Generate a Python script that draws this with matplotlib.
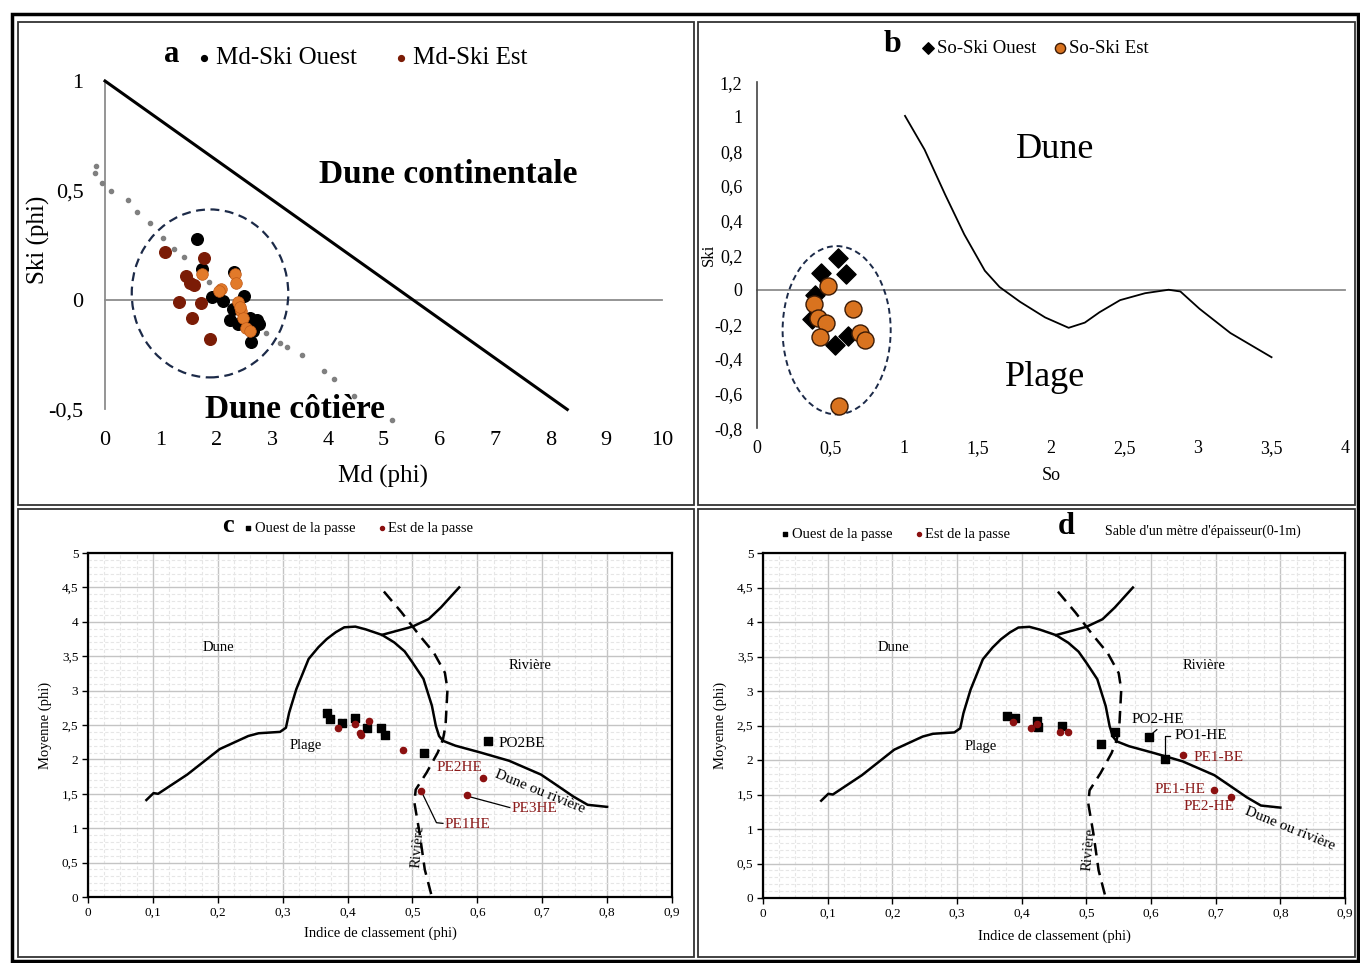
import matplotlib
matplotlib.use('Agg')
import matplotlib.pyplot as plt
from matplotlib.patches import Ellipse, Rectangle
from matplotlib.ticker import MultipleLocator

plt.rcParams['font.family'] = ['Liberation Serif', 'DejaVu Serif']

# ---------------- Panel a data ----------------
a_ouest_md = [1.66, 1.75, 2.32, 1.92, 2.12, 2.50, 2.29, 2.24, 2.39, 2.60, 2.72, 2.66, 2.63, 2.58, 2.76]
a_ouest_ski = [0.28, 0.14, 0.13, 0.015, -0.003, 0.02, -0.04, -0.09, -0.11, -0.08, -0.09, -0.14, -0.19, -0.12, -0.11]
a_est_md = [1.07, 1.77, 1.45, 1.53, 1.60, 1.32, 1.72, 1.57, 1.89]
a_est_ski = [0.22, 0.19, 0.11, 0.076, 0.07, -0.008, -0.015, -0.084, -0.18]
a_est2_md = [1.75, 2.33, 2.36, 2.09, 2.05, 2.39, 2.45, 2.48, 2.54, 2.60, 2.42]
a_est2_ski = [0.12, 0.12, 0.076, 0.05, 0.04, -0.01, -0.05, -0.08, -0.13, -0.14, -0.03]
a_dot_md = [-0.16, -0.18, -0.05, 0.11, 0.41, 0.57, 0.80, 1.04, 1.23, 1.42, 1.87, 2.89, 3.14, 3.27, 3.54, 3.94, 4.11, 4.47, 5.15]
a_dot_ski = [0.613, 0.581, 0.536, 0.499, 0.457, 0.403, 0.352, 0.284, 0.233, 0.198, 0.084, -0.149, -0.198, -0.213, -0.251, -0.323, -0.36, -0.437, -0.548]
a_limit_md = [0, 8.3]
a_limit_ski = [1, -0.5]
a_xticks = [0, 1, 2, 3, 4, 5, 6, 7, 8, 9, 10]
a_xticklabels = ['0', '1', '2', '3', '4', '5', '6', '7', '8', '9', '10']
a_yticks = [1, 0.5, 0, -0.5]
a_yticklabels = ['1', '0,5', '0', '-0,5']

# ---------------- Panel b data ----------------
b_ouest_so = [0.553, 0.435, 0.605, 0.395, 0.372, 0.621, 0.531]
b_ouest_ski = [0.185, 0.095, 0.089, -0.03, -0.17, -0.27, -0.32]
b_est_so = [0.481, 0.39, 0.655, 0.417, 0.47, 0.43, 0.70, 0.735, 0.558]
b_est_ski = [0.021, -0.08, -0.11, -0.165, -0.19, -0.275, -0.25, -0.29, -0.67]
b_curve_so = [1.007, 1.14, 1.28, 1.41, 1.55, 1.65, 1.79, 1.96, 2.12, 2.23, 2.33, 2.47, 2.64, 2.80, 2.88, 3.01, 3.22, 3.50]
b_curve_ski = [1.005, 0.81, 0.55, 0.32, 0.11, 0.016, -0.07, -0.16, -0.22, -0.19, -0.13, -0.06, -0.02, 0.0, -0.01, -0.11, -0.25, -0.39]
b_xticks = [0, 0.5, 1, 1.5, 2, 2.5, 3, 3.5, 4]
b_xticklabels = ['0', '0,5', '1', '1,5', '2', '2,5', '3', '3,5', '4']
b_yticks = [1.2, 1, 0.8, 0.6, 0.4, 0.2, 0, -0.2, -0.4, -0.6, -0.8]
b_yticklabels = ['1,2', '1', '0,8', '0,6', '0,4', '0,2', '0', '-0,2', '-0,4', '-0,6', '-0,8']

# ---------------- Panels c/d reference curves ----------------
cd_main_x = [0.090, 0.101, 0.108, 0.153, 0.203, 0.247, 0.263, 0.296, 0.305, 0.310, 0.321, 0.340, 0.355, 0.368,
             0.382, 0.395, 0.412, 0.428, 0.453, 0.472, 0.488, 0.500, 0.517, 0.530, 0.536, 0.541, 0.547, 0.566,
             0.605, 0.649, 0.698, 0.720, 0.748, 0.770, 0.800]
cd_main_y = [1.41, 1.51, 1.50, 1.78, 2.15, 2.34, 2.38, 2.40, 2.46, 2.68, 3.02, 3.46, 3.63, 3.75,
             3.85, 3.92, 3.93, 3.89, 3.81, 3.70, 3.57, 3.41, 3.17, 2.78, 2.49, 2.34, 2.27, 2.20,
             2.10, 1.98, 1.78, 1.64, 1.46, 1.34, 1.31]
cd_branch_x = [0.453, 0.500, 0.525, 0.544, 0.572]
cd_branch_y = [3.81, 3.93, 4.04, 4.21, 4.50]
cd_dash_x = [0.456, 0.483, 0.511, 0.533, 0.550, 0.554, 0.551, 0.547, 0.539, 0.522, 0.505, 0.503, 0.511, 0.519, 0.530]
cd_dash_y = [4.44, 4.14, 3.80, 3.55, 3.26, 3.02, 2.49, 2.29, 2.10, 1.81, 1.56, 1.37, 0.93, 0.40, 0.0]
cd_xticks = [0, 0.1, 0.2, 0.3, 0.4, 0.5, 0.6, 0.7, 0.8, 0.9]
cd_xticklabels = ['0', '0,1', '0,2', '0,3', '0,4', '0,5', '0,6', '0,7', '0,8', '0,9']
cd_yticks = [0, 0.5, 1, 1.5, 2, 2.5, 3, 3.5, 4, 4.5, 5]
cd_yticklabels = ['0', '0,5', '1', '1,5', '2', '2,5', '3', '3,5', '4', '4,5', '5']

# ---------------- Panel c data ----------------
c_ouest_x = [0.368, 0.373, 0.391, 0.411, 0.430, 0.452, 0.458, 0.518, 0.616]
c_ouest_y = [2.67, 2.58, 2.53, 2.60, 2.46, 2.46, 2.36, 2.10, 2.27]
c_est_x = [0.386, 0.411, 0.420, 0.419, 0.433, 0.486, 0.513, 0.584, 0.609]
c_est_y = [2.45, 2.51, 2.36, 2.38, 2.56, 2.13, 1.54, 1.48, 1.73]

# ---------------- Panel d data ----------------
d_ouest_x = [0.378, 0.389, 0.424, 0.426, 0.4625, 0.522, 0.597, 0.621, 0.545]
d_ouest_y = [2.64, 2.61, 2.56, 2.48, 2.50, 2.23, 2.33, 2.02, 2.40]
d_est_x = [0.387, 0.415, 0.423, 0.460, 0.471, 0.649, 0.698, 0.723]
d_est_y = [2.55, 2.46, 2.52, 2.40, 2.41, 2.07, 1.57, 1.47]

W, H = 1360, 963
fig = plt.figure(figsize=(13.6, 9.63), dpi=100)


def fx(px):
    return px / W


def fy(py):
    return 1 - py / H


def axes_px(left, top, right, bottom):
    return fig.add_axes([fx(left), fy(bottom), (right - left) / W, (bottom - top) / H])


# frames
fig.add_artist(Rectangle((fx(12), fy(961)), (1358 - 12) / W, (961 - 14) / H, transform=fig.transFigure,
                         fill=False, lw=2.5, ec='black'))
for (l, t, r, b) in [(18, 22, 694, 505), (698, 22, 1355, 505), (18, 509, 694, 957), (698, 509, 1355, 957)]:
    fig.add_artist(Rectangle((fx(l), fy(b)), (r - l) / W, (b - t) / H, transform=fig.transFigure,
                             fill=False, lw=1.3, ec='#333333'))

GRAY = '#8c8c8c'
NAVY = '#1c2a48'

# ================= Panel a =================
axa = axes_px(91.1, 70.05, 673.1, 427)
axa.set_xlim(-0.25, 10.2)
axa.set_ylim(-0.58, 1.05)
for s in axa.spines.values():
    s.set_visible(False)
axa.plot([0, 10], [0, 0], color=GRAY, lw=1.3, zorder=1)
axa.plot([0, 0], [-0.5, 1], color=GRAY, lw=1.3, zorder=1)
axa.plot(a_limit_md, a_limit_ski, color='black', lw=2.2, zorder=2)
axa.scatter(a_dot_md, a_dot_ski, s=9, color='#808080', zorder=2)
axa.add_patch(Ellipse((1.885, 0.03), 2.81, 0.767, fill=False, ls=(0, (4, 2.5)), lw=1.6, ec=NAVY, zorder=3))
ha1 = axa.scatter(a_ouest_md, a_ouest_ski, s=70, color='black', zorder=4, label='Md-Ski Ouest')
ha2 = axa.scatter(a_est_md, a_est_ski, s=70, color='#7b1c06', zorder=5, label='Md-Ski Est')
axa.scatter(a_est2_md, a_est2_ski, s=70, color='#e27a2a', edgecolors='#c05a18', linewidths=0.5, zorder=6)
axa.set_xticks(a_xticks)
axa.set_xticklabels(a_xticklabels, fontsize=16)
axa.set_yticks(a_yticks)
axa.set_yticklabels(a_yticklabels, fontsize=16)
axa.tick_params(axis='x', length=0, pad=2.7)
axa.tick_params(axis='y', length=0, pad=5.5)
axa.set_xlabel('Md (phi)', fontsize=18)
axa.xaxis.set_label_coords(0.5015, -0.106)
axa.set_ylabel('Ski (phi)', fontsize=18)
axa.yaxis.set_label_coords(-0.0706, 0.524)
axa.text(6.16, 0.571, 'Dune continentale', fontsize=24, fontweight='bold', ha='center', va='center')
axa.text(3.41, -0.502, 'Dune côtière', fontsize=24, fontweight='bold', ha='center', va='center')
fig.text(fx(172), fy(55), 'a', fontsize=22, fontweight='bold', ha='center', va='center')
axa.legend(handles=[ha1, ha2], loc='center', bbox_to_anchor=(fx(360), fy(58)), bbox_transform=fig.transFigure,
           ncol=2, frameon=False, fontsize=18, handletextpad=0.05, columnspacing=1.3, handlelength=0.9,
           markerscale=0.5, borderpad=0)

# ================= Panel b =================
axb = axes_px(745.2, 73.5, 1352.4, 436.8)
axb.set_xlim(-0.08, 4.05)
axb.set_ylim(-0.85, 1.25)
for s in axb.spines.values():
    s.set_visible(False)
axb.plot([0, 4], [0, 0], color=GRAY, lw=1.3, zorder=1)
axb.plot([0, 0], [-0.8, 1.2], color='#444444', lw=1.2, zorder=1)
axb.plot(b_curve_so, b_curve_ski, color='black', lw=1.3, zorder=2)
axb.add_patch(Ellipse((0.542, -0.234), 0.735, 0.973, fill=False, ls=(0, (3, 2)), lw=1.4, ec=NAVY, zorder=3))
hb1 = axb.scatter(b_ouest_so, b_ouest_ski, s=95, marker='D', color='black', zorder=4, label='So-Ski Ouest')
hb2 = axb.scatter(b_est_so, b_est_ski, s=150, marker='o', color='#d9731f', edgecolors='#3a1a05',
                  linewidths=1.0, zorder=5, label='So-Ski Est')
axb.set_xticks(b_xticks)
axb.set_xticklabels(b_xticklabels, fontsize=13)
axb.set_yticks(b_yticks)
axb.set_yticklabels(b_yticklabels, fontsize=13)
axb.tick_params(axis='x', length=0, pad=2.2)
axb.tick_params(axis='y', length=0, pad=2)
axb.set_xlabel('So', fontsize=13)
axb.xaxis.set_label_coords(0.5036, -0.083)
axb.set_ylabel('Ski', fontsize=12)
axb.yaxis.set_label_coords(-0.046, 0.50)
axb.text(2.03, 0.81, 'Dune', fontsize=26, ha='center', va='center')
axb.text(1.96, -0.51, 'Plage', fontsize=26, ha='center', va='center')
fig.text(fx(893), fy(45), 'b', fontsize=23, fontweight='bold', ha='center', va='center')
axb.legend(handles=[hb1, hb2], loc='center', bbox_to_anchor=(fx(1034), fy(48)), bbox_transform=fig.transFigure,
           ncol=2, frameon=False, fontsize=13.5, handletextpad=0.05, columnspacing=0.8, handlelength=0.9,
           markerscale=0.6, borderpad=0)

# ================= Panels c and d =================
RED = '#8b1010'
LRED = '#8b1a1a'


def base_cd(ax):
    ax.set_xlim(0, 0.9)
    ax.set_ylim(0, 5)
    ax.set_xticks(cd_xticks)
    ax.set_xticklabels(cd_xticklabels, fontsize=9.5)
    ax.set_yticks(cd_yticks)
    ax.set_yticklabels(cd_yticklabels, fontsize=9.5)
    ax.xaxis.set_minor_locator(MultipleLocator(0.025))
    ax.yaxis.set_minor_locator(MultipleLocator(0.1))
    ax.grid(which='major', color='#c4c4c4', lw=1.0)
    ax.grid(which='minor', color='#e6e6e6', lw=0.8, ls=(0, (3, 2)))
    ax.set_axisbelow(True)
    ax.tick_params(which='major', length=4, width=1, pad=3, direction='out')
    ax.tick_params(which='minor', length=0)
    for s in ax.spines.values():
        s.set_linewidth(1.6)
        s.set_color('black')
    ax.plot(cd_main_x, cd_main_y, color='black', lw=1.8, zorder=3)
    ax.plot(cd_branch_x, cd_branch_y, color='black', lw=1.8, zorder=3)
    ax.plot(cd_dash_x, cd_dash_y, color='black', lw=1.8, ls=(0, (5, 3)), zorder=3)
    ax.set_xlabel('Indice de classement (phi)', fontsize=10.5)
    ax.set_ylabel('Moyenne (phi)', fontsize=10.5)
    ax.text(0.2015, 3.63, 'Dune', fontsize=10.5, ha='center', va='center')
    ax.text(0.682, 3.37, 'Rivière', fontsize=10.5, ha='center', va='center')
    ax.text(0.336, 2.20, 'Plage', fontsize=10.5, ha='center', va='center')


# ----- c -----
axc = axes_px(88, 553, 672, 897)
base_cd(axc)
axc.xaxis.set_label_coords(0.5, -0.087)
axc.yaxis.set_label_coords(-0.062, 0.5)
hc1 = axc.scatter(c_ouest_x, c_ouest_y, s=28, marker='s', color='black', zorder=5, label='Ouest de la passe')
hc2 = axc.scatter(c_est_x, c_est_y, s=20, marker='o', color=RED, zorder=6, label='Est de la passe')
axc.text(0.508, 0.74, 'Rivière', fontsize=10.5, rotation=85, ha='center', va='center')
axc.text(0.696, 1.53, 'Dune ou rivière', fontsize=11, rotation=-22, ha='center', va='center')
axc.text(0.632, 2.23, 'PO2BE', fontsize=11, ha='left', va='center')
axc.text(0.537, 1.88, 'PE2HE', fontsize=11, ha='left', va='center', color=LRED)
axc.plot([0.583, 0.650], [1.47, 1.30], color='black', lw=0.9, zorder=4)
axc.text(0.653, 1.29, 'PE3HE', fontsize=11, ha='left', va='center', color=LRED)
axc.plot([0.514, 0.537, 0.547], [1.53, 1.08, 1.07], color='black', lw=0.9, zorder=4)
axc.text(0.549, 1.06, 'PE1HE', fontsize=11, ha='left', va='center', color=LRED)
fig.text(fx(228), fy(525), 'c', fontsize=19, fontweight='bold', ha='center', va='center')
axc.legend(handles=[hc1, hc2], loc='center', bbox_to_anchor=(fx(358), fy(528)), bbox_transform=fig.transFigure,
           ncol=2, frameon=False, fontsize=10.5, handletextpad=0.05, columnspacing=1.4, handlelength=0.8,
           markerscale=0.65, borderpad=0)

# ----- d -----
axd = axes_px(763, 553, 1345, 898)
base_cd(axd)
axd.xaxis.set_label_coords(0.5, -0.09)
axd.yaxis.set_label_coords(-0.062, 0.5)
hd1 = axd.scatter(d_ouest_x, d_ouest_y, s=28, marker='s', color='black', zorder=5, label='Ouest de la passe')
hd2 = axd.scatter(d_est_x, d_est_y, s=20, marker='o', color=RED, zorder=6, label='Est de la passe')
axd.text(0.504, 0.70, 'Rivière', fontsize=10.5, rotation=85, ha='center', va='center')
axd.text(0.815, 1.01, 'Dune ou rivière', fontsize=11, rotation=-22, ha='center', va='center')
axd.plot([0.599, 0.609], [2.36, 2.44], color='black', lw=0.9, zorder=4)
axd.text(0.570, 2.59, 'PO2-HE', fontsize=11, ha='left', va='center')
axd.plot([0.621, 0.621, 0.629], [2.02, 2.35, 2.35], color='black', lw=0.9, zorder=4)
axd.text(0.637, 2.35, 'PO1-HE', fontsize=11, ha='left', va='center')
axd.text(0.665, 2.04, 'PE1-BE', fontsize=11, ha='left', va='center', color=LRED)
axd.text(0.684, 1.57, 'PE1-HE', fontsize=11, ha='right', va='center', color=LRED)
axd.text(0.650, 1.33, 'PE2-HE', fontsize=11, ha='left', va='center', color=LRED)
fig.text(fx(1066), fy(527), 'd', fontsize=22, fontweight='bold', ha='center', va='center')
fig.text(fx(1105), fy(531), "Sable d'un mètre d'épaisseur(0-1m)", fontsize=10, ha='left', va='center')
axd.legend(handles=[hd1, hd2], loc='center', bbox_to_anchor=(fx(895), fy(534)), bbox_transform=fig.transFigure,
           ncol=2, frameon=False, fontsize=10.5, handletextpad=0.05, columnspacing=1.4, handlelength=0.8,
           markerscale=0.65, borderpad=0)

fig.savefig('out.png', dpi=100)
